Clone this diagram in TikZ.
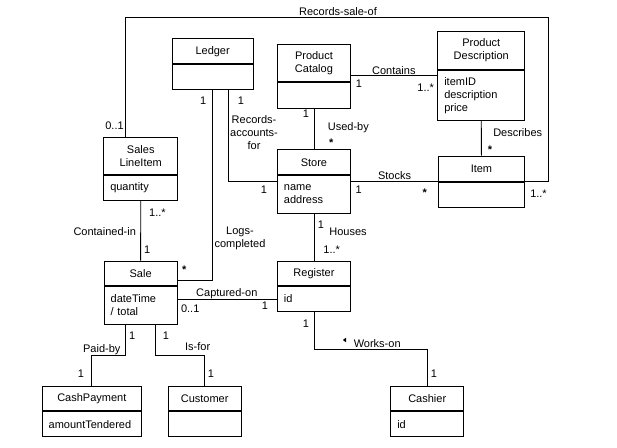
\documentclass[tikz,border=0pt]{standalone}
\usepackage{fontspec}
\setmainfont{Liberation Sans}
\newcommand\umlfont{\fontsize{11}{13}\selectfont}
\newcommand\umlclass[8]{%
  \node[clstitle, minimum width=#4pt, minimum height=#5pt] (#1) at (#2,#3) {#7};
  \node[clsattr, minimum width=#4pt, minimum height=#6pt, text width=\dimexpr#4pt-13pt\relax] (#1A) at (#1.south west) {#8};
}
\tikzset{
  clstitle/.style={draw, line width=0.9pt, inner sep=0pt, font=\umlfont, align=center, anchor=north west},
  clsattr/.style={draw, line width=0.9pt, inner xsep=6.5pt, inner ysep=0pt, font=\umlfont, align=left, anchor=north west},
  lbl/.style={inner sep=0pt, font=\umlfont, text height=7.9pt, text depth=0pt},
  star/.style={lbl, font=\umlfont\bfseries, yshift=-2.4pt},
  mlbl/.style={inner sep=0pt, font=\umlfont, align=center},
  conn/.style={line width=0.9pt},
}
\begin{document}
\begin{tikzpicture}[x=1pt,y=-1pt]
\useasboundingbox (0,0) rectangle (617,447);
% classes
\umlclass{ledger}{171.7}{38.3}{81}{25}{25}{Ledger}{}
\umlclass{pc}{277}{44}{73}{37}{25.7}{Product\\Catalog}{}
\umlclass{pd}{437.3}{31}{87}{37.7}{50.3}{Product\\Description}{itemID\\description\\price}
\umlclass{sli}{103.3}{136.7}{74}{37.6}{24.7}{Sales\\LineItem}{quantity}
\umlclass{store}{277}{149.3}{73}{25}{37.7}{Store}{name\\address}
\umlclass{item}{438}{155.7}{86}{25.3}{24.7}{Item}{}
\umlclass{sale}{103.7}{260.7}{73}{24.6}{37.4}{Sale}{dateTime\\/ total}
\umlclass{reg}{277}{260.7}{73}{24.6}{24.7}{Register}{id}
\umlclass{cash}{41.7}{385.7}{99.3}{24.6}{25}{CashPayment}{amountTendered}
\umlclass{cust}{167.7}{385.7}{73}{24.6}{25}{Customer}{}
\umlclass{cashier}{390.3}{385.7}{73}{24.6}{25}{Cashier}{id}
% connectors
\coordinate (rscorner) at (548.7,17);
\draw[conn] ([xshift=21.7pt]sli.north west) |- (rscorner) |- (item.south east);
\draw[conn] ([xshift=40.3pt]ledgerA.south west) |- ([yshift=6pt]sale.south east);
\draw[conn] ([xshift=56.6pt]ledgerA.south west) |- ([yshift=-6.7pt]storeA.north west);
\draw[conn] (pcA.south) -- (store.north);
\draw[conn] ([yshift=6pt]pc.south east) -- ([yshift=6pt]pc.south east -| pdA.west);
\draw[conn] (pdA.south) -- (item.north);
\draw[conn] ([yshift=-6.7pt]storeA.north east) -- ([yshift=-6.7pt]storeA.north east -| item.west);
\draw[conn] (sliA.south) -- (sale.north);
\draw[conn] (storeA.south) -- (reg.north);
\draw[conn] ([yshift=-13pt]saleA.north east) -- ([yshift=-13pt]saleA.north east -| regA.west);
\draw[conn] ([xshift=22pt]saleA.south west) -- ++(0,31.3) -| (cash.north);
\draw[conn] ([xshift=51.6pt]saleA.south west) -- ++(0,31.3) -| (cust.north);
\draw[conn] (regA.south) -- ++(0,37.7) -| (cashier.north);
\fill (346.2,337.6) -- (346.2,342.4) -- (342.8,340) -- cycle;
% labels
\node[lbl] (lrs) at (338,12) {Records-sale-of};
\node[lbl] (l01a) at (114.5,126) {0..1};
\node[lbl] (lled1) at (203.3,100.7) {1};
\node[lbl] (lled2) at (241,100.7) {1};
\node[mlbl] (lraf) at (254,133) {Records-\\accounts-\\for};
\node[lbl] (lpc1) at (306,113.3) {1};
\node[lbl] (lused) at (348.3,126.7) {Used-by};
\node[star] (lusedst) at (331.3,140) {*};
\node[lbl] (lst1) at (264,190) {1};
\node[lbl] (lst2) at (358.7,189.3) {1};
\node[lbl] (lpc2) at (359,83.3) {1};
\node[lbl] (lcont) at (393.8,70.7) {Contains};
\node[lbl] (lcontm) at (425.7,87.3) {1..*};
\node[lbl] (ldesc) at (517.7,132.3) {Describes};
\node[star] (ldescst) at (490,146.7) {*};
\node[lbl] (lstocks) at (394.5,175.7) {Stocks};
\node[star] (lstocksst) at (424.8,190) {*};
\node[lbl] (lrsm) at (538.5,193.3) {1..*};
\node[lbl] (lslim) at (157.5,212.2) {1..*};
\node[lbl] (lcin) at (104.7,231.7) {Contained-in};
\node[lbl] (lcin1) at (147.3,250) {1};
\node[mlbl] (llogs) at (240,238.8) {Logs-\\completed};
\node[star] (llogsst) at (184.3,266.7) {*};
\node[lbl] (lcap) at (226.8,293) {Captured-on};
\node[lbl] (lcap01) at (190.2,308.3) {0..1};
\node[lbl] (lcap1) at (265,305.7) {1};
\node[lbl] (lpb1) at (132.3,336) {1};
\node[lbl] (lif1) at (166,336) {1};
\node[lbl] (lpb) at (101.8,348.5) {Paid-by};
\node[lbl] (lif) at (197.7,347) {Is-for};
\node[lbl] (lpb2) at (81,373.7) {1};
\node[lbl] (lif2) at (211,373.7) {1};
\node[lbl] (lwo1) at (306,323.3) {1};
\node[lbl] (lh1) at (321,225) {1};
\node[lbl] (lhouses) at (348,231.7) {Houses};
\node[lbl] (lhm) at (331.7,249.3) {1..*};
\node[lbl] (lwo) at (377.2,343.3) {Works-on};
\node[lbl] (lwo2) at (434,373.7) {1};
\end{tikzpicture}
\end{document}
